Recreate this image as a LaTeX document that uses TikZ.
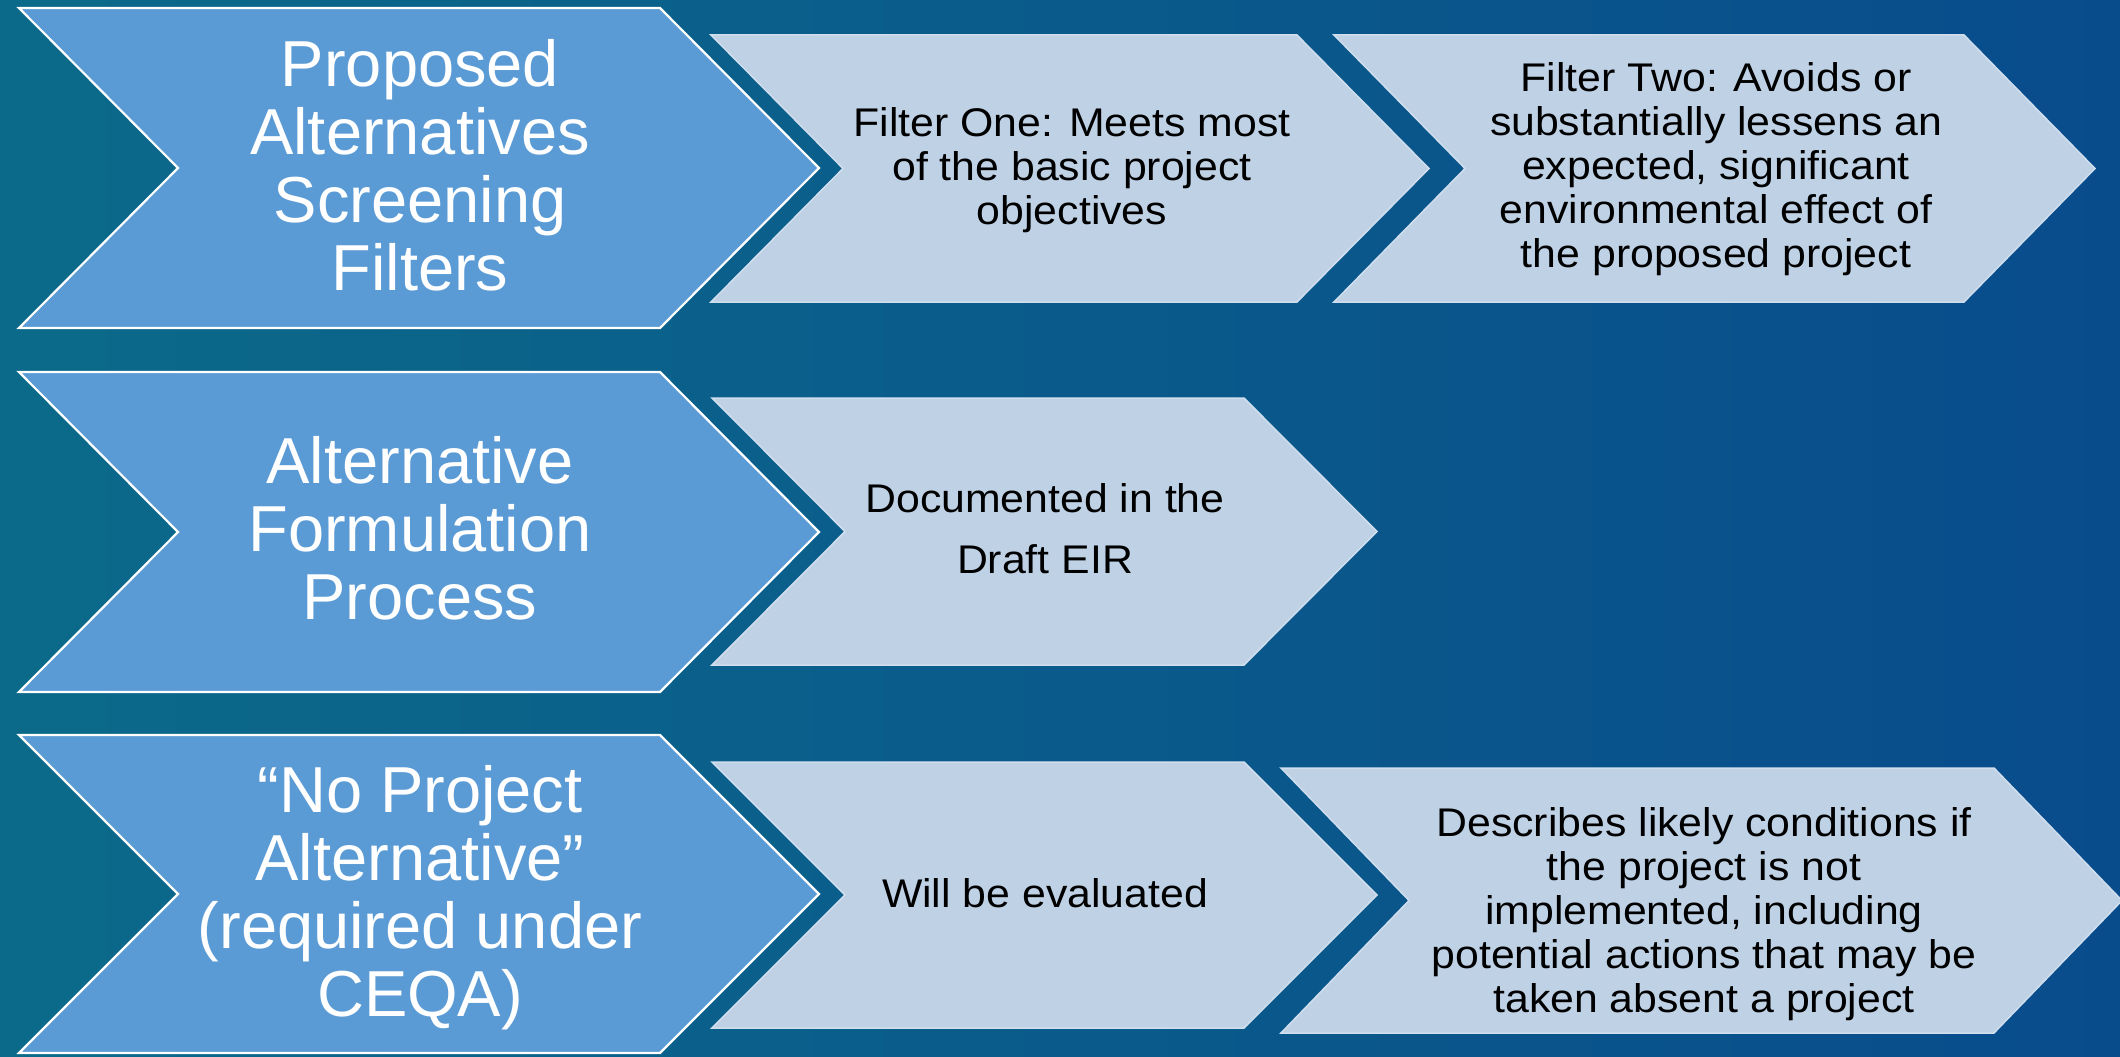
\documentclass[tikz,border=0pt]{standalone}
\usepackage{fontspec}
\setmainfont{Liberation Sans}
\newfontfamily\lightfont{Liberation Sans}[FakeStretch=1.07]
\definecolor{bgleft}{RGB}{11,106,138}
\definecolor{bgright}{RGB}{9,76,140}
\definecolor{darkchev}{RGB}{91,155,213}
\definecolor{lightchev}{RGB}{190,209,229}
\definecolor{lightedge}{RGB}{208,222,238}
\newcommand\chevpath[6]{%
  \path[#1] (#2,#4) -- (#3,#4) -- ({#3+#6},{(#4+#5)/2}) -- (#3,#5) -- (#2,#5) -- ({#2+#6},{(#4+#5)/2}) -- cycle;}
\tikzset{
  darkbox/.style={fill=darkchev, draw=white, line width=2.2pt, line join=miter},
  lightbox/.style={fill=lightchev, draw=lightedge, line width=1.5pt, line join=miter},
  darktext/.style={text=white, align=center, inner sep=0pt, font=\fontsize{65}{68}\selectfont},
  lighttext/.style={text=black, align=center, inner sep=0pt, font=\lightfont\fontsize{40}{44}\selectfont},
}
\begin{document}
\begin{tikzpicture}[x=1pt,y=-1pt]
\useasboundingbox (0,0) rectangle (2120,1057);
\shade[left color=bgleft, right color=bgright] (0,0) rectangle (2120,1057);

% row 1
\chevpath{darkbox}{19}{660}{8}{328}{159}
\chevpath{lightbox}{711}{1297}{35}{302}{132}
\chevpath{lightbox}{1334}{1964}{35}{302}{131}
% row 2
\chevpath{darkbox}{19}{660}{372}{692}{159}
\chevpath{lightbox}{712}{1244}{398}{665}{133}
% row 3
\chevpath{darkbox}{19}{660}{735}{1053}{159}
\chevpath{lightbox}{712}{1244}{762}{1028}{133}
\chevpath{lightbox}{1281}{1994}{768}{1033}{128}

\node[darktext] (d1) at (420,165) {Proposed\\Alternatives\\Screening\\Filters};
\node[darktext] (d2) at (420,528) {Alternative\\Formulation\\Process};
\node[darktext] (d3) at (420,898) {“No Project\\Alternative”\\(required under\\CEQA)};

\node[lighttext] (f1) at (1072,170) {Filter One: Meets most\\of the basic project\\objectives};
\node[lighttext] (f2) at (1716,169) {Filter Two: Avoids or\\substantially lessens an\\expected, significant\\environmental effect of\\the proposed project};
\node[lighttext, font=\lightfont\fontsize{40}{61}\selectfont] (e1) at (1045,529) {Documented in the\\Draft EIR};
\node[lighttext] (n1) at (1045,893) {Will be evaluated};
\node[lighttext] (n2) at (1704,914) {Describes likely conditions if\\the project is not\\implemented, including\\potential actions that may be\\taken absent a project};
\end{tikzpicture}
\end{document}
